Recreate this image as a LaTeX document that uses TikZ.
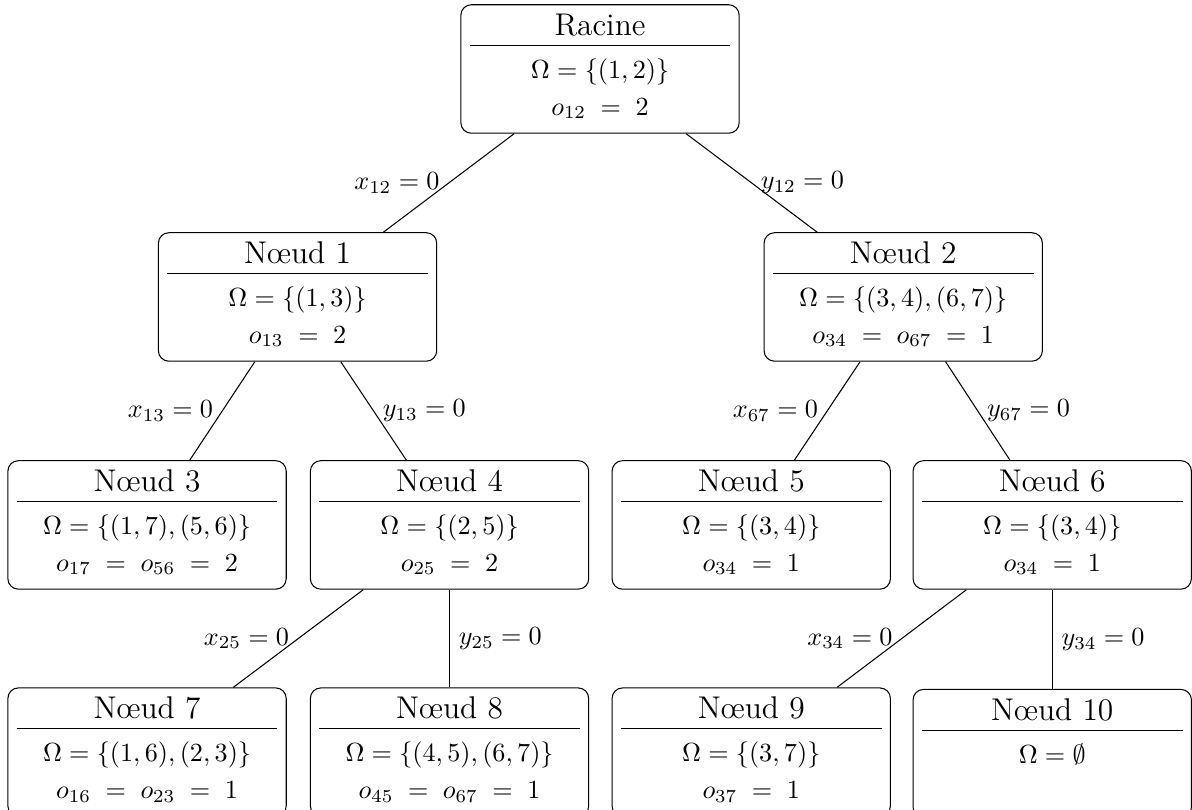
\documentclass[tikz,border=0pt]{standalone}
\usepackage{array}
\usepackage{tikz}
\newcommand{\boite}[3]{%
  \begin{tabular}{>{\centering\arraybackslash}p{3.08cm}}
    {\large #1} \\ \hline
    \rule{0pt}{12.5pt}#2 \\
    \rule{0pt}{10.3pt}#3
  \end{tabular}}
\begin{document}
\begin{tikzpicture}
  [
    Box/.style={rectangle, draw=black, rounded corners, inner sep=0.3333em}
  ]
  \useasboundingbox (-8.054,0.926) rectangle (7.946,-9.946);
  % Nodes
  \node[Box] (r) at(0, 0) {\boite{Racine}{$\Omega = \{(1,2)\}$}{$o_{12} \;=\; 2$}};
  \node[Box] (n1) at(-4.06, -3.06) {\boite{Nœud 1}{$\Omega = \{(1,3)\}$}{$o_{13} \;=\; 2$}};
  \node[Box] (n2) at(4.07, -3.06) {\boite{Nœud 2}{$\Omega = \{(3,4),(6,7)\}$}{$o_{34} \;=\; o_{67} \;=\; 1$}};
  \node[Box] (n3) at(-6.08, -6.12) {\boite{Nœud 3}{$\Omega = \{(1,7),(5,6)\}$}{$o_{17} \;=\; o_{56} \;=\; 2$}};
  \node[Box] (n4) at(-2.02, -6.12) {\boite{Nœud 4}{$\Omega = \{(2,5)\}$}{$o_{25} \;=\; 2$}};
  \node[Box] (n5) at(2.03, -6.12) {\boite{Nœud 5}{$\Omega = \{(3,4)\}$}{$o_{34} \;=\; 1$}};
  \node[Box] (n6) at(6.07, -6.12) {\boite{Nœud 6}{$\Omega = \{(3,4)\}$}{$o_{34} \;=\; 1$}};
  \node[Box] (n7) at(-6.08, -9.17) {\boite{Nœud 7}{$\Omega = \{(1,6),(2,3)\}$}{$o_{16} \;=\; o_{23} \;=\; 1$}};
  \node[Box] (n8) at(-2.02, -9.17) {\boite{Nœud 8}{$\Omega = \{(4,5),(6,7)\}$}{$o_{45} \;=\; o_{67} \;=\; 1$}};
  \node[Box] (n9) at(2.03, -9.17) {\boite{Nœud 9}{$\Omega = \{(3,7)\}$}{$o_{37} \;=\; 1$}};
  \node[Box] (n10) at(6.07, -9.19) {\boite{Nœud 10}{$\Omega = \emptyset$}{\mbox{}}};
  % Lines
  \path [draw] (r) -- node[left] {$x_{12} = 0$} (n1);
  \path [draw] (r) -- node[right] {$y_{12} = 0$} (n2);
  \path [draw] (n1) -- node[left] {$x_{13} = 0$} (n3);
  \path [draw] (n1) -- node[right] {$y_{13} = 0$} (n4);
  \path [draw] (n2) -- node[left] {$x_{67} = 0$} (n5);
  \path [draw] (n2) -- node[right] {$y_{67} = 0$} (n6);
  \path [draw] (n4) -- node[left] {$x_{25} = 0$} (n7);
  \path [draw] (n4) -- node[right] {$y_{25} = 0$} (n8);
  \path [draw] (n6) -- node[left] {$x_{34} = 0$} (n9);
  \path [draw] (n6) -- node[right] {$y_{34} = 0$} (n10);
\end{tikzpicture}
\end{document}
